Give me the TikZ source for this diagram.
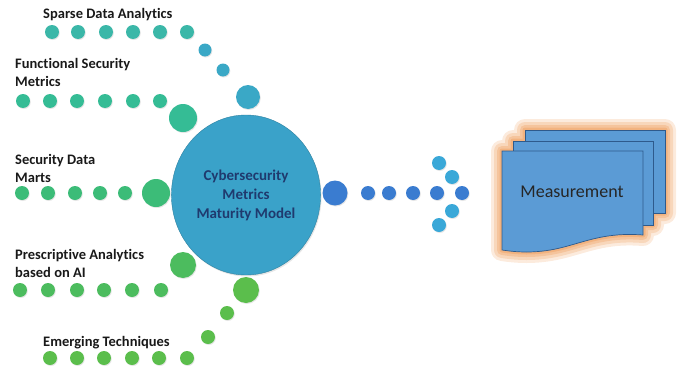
\documentclass[tikz,border=0pt]{standalone}
\usepackage{fontspec}
\setmainfont{Carlito}[Ligatures=NoCommon]
\usetikzlibrary{shapes.geometric,shadows}

\definecolor{sparsec}{HTML}{3BB7A8}
\definecolor{sparseb}{HTML}{3AA8C6}
\definecolor{funcc}{HTML}{35BC95}
\definecolor{secc}{HTML}{3CBC78}
\definecolor{presc}{HTML}{4CBC5E}
\definecolor{emerc}{HTML}{5BBE4C}
\definecolor{hubc}{HTML}{3AA2C9}
\definecolor{hubtext}{HTML}{1F3A6E}
\definecolor{flowc}{HTML}{3A7CD0}
\definecolor{tipc}{HTML}{3AA8D8}
\definecolor{pagec}{HTML}{5B9BD5}
\definecolor{pageedge}{HTML}{2E5A8C}
\definecolor{glowc}{HTML}{EE9A55}

% outline of the three pages
\newcommand\backpage{(525,130) rectangle (665,213)}
\newcommand\midpage{(513,141) rectangle (653,225)}
\newcommand\frontpage{(502,151) -- (643,151) -- (643,235) .. controls (605,232) and (585,242) .. (560,248) .. controls (535,254) and (515,252) .. (502,250) -- cycle}

\begin{document}
\begin{tikzpicture}[
        x=1pt, y=-1pt,
        bead/.style={circle, inner sep=0pt, minimum size=14pt, fill=#1,
            drop shadow={shadow xshift=0.8pt, shadow yshift=-1pt, opacity=0.2}},
        bigbead/.style={bead=#1, minimum size=26pt},
        lbl/.style={font=\bfseries\fontsize{14.5}{18}\selectfont, align=left, anchor=west, text=black!90, inner sep=0pt},
        page/.style={fill=pagec, draw=pageedge, line width=0.7pt},
    ]
    \useasboundingbox (0,0) rectangle (683,375);

    % labels
    \node[lbl] (sda) at (43,15) {Sparse Data Analytics};
    \node[lbl] (fsm) at (15,72.5) {Functional Security\\Metrics};
    \node[lbl] (sdm) at (15,168.5) {Security Data\\Marts};
    \node[lbl] (paa) at (15,263.5) {Prescriptive Analytics\\based on AI};
    \node[lbl] (emt) at (43,343) {Emerging Techniques};

    % rows of beads
    \foreach \x [count=\i] in {52,78,106,133,160,187}
        \node[bead=sparsec] (sda-\i) at (\x,32) {};
    \node[bead=sparseb, minimum size=13pt] (sda-7) at (205,50) {};
    \node[bead=sparseb, minimum size=13pt] (sda-8) at (223,70) {};
    \node[bigbead=sparseb, minimum size=24pt] (sda-9) at (248,97) {};

    \foreach \x [count=\i] in {23,50,77,105,133,160}
        \node[bead=funcc] (fsm-\i) at (\x,101) {};
    \node[bigbead=funcc, minimum size=28pt] (fsm-7) at (183,118) {};

    \foreach \x [count=\i] in {22,48,75,100,125}
        \node[bead=secc] (sdm-\i) at (\x,193) {};
    \node[bigbead=secc, minimum size=28pt] (sdm-6) at (156,193) {};

    \foreach \x [count=\i] in {20,48,77,104,132,161}
        \node[bead=presc] (paa-\i) at (\x,290) {};
    \node[bigbead=presc] (paa-7) at (183,265) {};

    \node[bigbead=emerc] (emt-9) at (246,290) {};
    \node[bead=emerc] (emt-8) at (227,313) {};
    \node[bead=emerc] (emt-7) at (208,337) {};
    \foreach \x [count=\i] in {50,77,104,132,159,187}
        \node[bead=emerc] (emt-\i) at (\x,358) {};

    % hub
    \node[ellipse, fill=hubc, draw=hubc!80!black, line width=0.4pt,
        minimum width=146pt, minimum height=160pt, align=center,
        text=hubtext, font=\bfseries\fontsize{15}{19}\selectfont,
        drop shadow={shadow xshift=1pt, shadow yshift=-1.5pt, opacity=0.2}]
        (hub) at (246,195) {Cybersecurity\\Metrics\\Maturity Model};

    % dotted arrow
    \node[bigbead=flowc, minimum size=25pt] (out-0) at (335,193) {};
    \foreach \x [count=\i] in {368,389,413,437}
        \node[bead=flowc] (out-\i) at (\x,193) {};
    \node[bead=flowc] (tip) at (462,193) {};
    \node[bead=tipc] (tip-u1) at (452,177) {};
    \node[bead=tipc] (tip-u2) at (439,163) {};
    \node[bead=tipc] (tip-d1) at (452,211) {};
    \node[bead=tipc] (tip-d2) at (439,225) {};

    % soft glow behind the pages
    \foreach \w/\o in {22/0.2, 16/0.25, 10/0.3, 5/0.4} {
        \begin{scope}[transparency group, opacity=\o]
            \filldraw[glowc, line width=\w pt, line join=round] \backpage;
            \filldraw[glowc, line width=\w pt, line join=round] \midpage;
            \filldraw[glowc, line width=\w pt, line join=round] \frontpage;
        \end{scope}
    }

    % pages
    \draw[page] \backpage;
    \draw[page] \midpage;
    \draw[page] \frontpage;
    \node[font=\fontsize{18}{20}\selectfont, text=black!85] (meas) at (572,192) {Measurement};
\end{tikzpicture}
\end{document}
